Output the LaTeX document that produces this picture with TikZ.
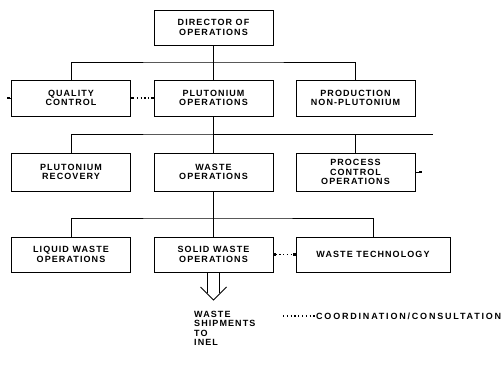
\documentclass[tikz,border=0pt]{standalone}
\usepackage{fontspec}
\newfontfamily\chartfont{Liberation Sans}[LetterSpace=12]
\newfontfamily\legendfont{Liberation Sans}[LetterSpace=20]
\usetikzlibrary{arrows.meta}
\begin{document}
\begin{tikzpicture}[x=1pt,y=-1pt,
  box/.style={draw, line width=0.9pt, minimum width=119pt, minimum height=36pt, inner sep=0pt, align=center,
    font=\chartfont\bfseries\fontsize{9}{9.6}\selectfont},
  lbl/.style={inner sep=0pt, align=left, font=\chartfont\bfseries\fontsize{9}{9.3}\selectfont},
  orgline/.style={line width=0.9pt},
  coordline/.style={line width=1.1pt, dash pattern=on 1.2pt off 2.6pt,
    {Square[length=2.6pt,width=2.6pt]}-{Square[length=2.6pt,width=2.6pt]}}]
\useasboundingbox (0,0) rectangle (504,385);

\node[box, minimum height=35pt] (dir) at (213.5,27.5) {DIRECTOR OF\\OPERATIONS};

\node[box] (qc) at (71,98) {QUALITY\\CONTROL};
\node[box] (pu) at (213.5,98) {PLUTONIUM\\OPERATIONS};
\node[box] (prod) at (355.5,98) {PRODUCTION\\NON-PLUTONIUM};

\node[box, minimum height=38pt] (purec) at (71,172) {PLUTONIUM\\RECOVERY};
\node[box, minimum height=38pt] (waste) at (213.5,172) {WASTE\\OPERATIONS};
\node[box, minimum height=38pt] (pcon) at (355.5,172) {PROCESS\\CONTROL\\OPERATIONS};

\node[box, minimum height=35pt] (liquid) at (71,254.5) {LIQUID WASTE\\OPERATIONS};
\node[box, minimum height=35pt] (solid) at (213.5,254.5) {SOLID WASTE\\OPERATIONS};
\node[box, minimum height=35pt, minimum width=154pt] (wtech) at (373,254.5) {WASTE TECHNOLOGY};

\coordinate (bus1) at (213.5,62);
\draw[orgline] (dir.south) -- (bus1);
\draw[orgline] (qc.north) |- (bus1) -| (prod.north);
\draw[orgline] (bus1) -- (pu.north);

\coordinate (bus2) at (213.5,134);
\coordinate (bus2end) at (433,134);
\draw[orgline] (pu.south) -- (bus2);
\draw[orgline] (purec.north) |- (bus2) -- (bus2end);
\draw[orgline] (bus2) -- (waste.north);
\draw[orgline] (pcon.north) |- (bus2);

\coordinate (bus3) at (213.5,218);
\draw[orgline] (waste.south) -- (bus3);
\draw[orgline] (liquid.north) |- (bus3) -| (wtech.north);
\draw[orgline] (bus3) -- (solid.north);

\draw[coordline] (qc.east) -- (pu.west);
\draw[coordline] (solid.east) -- (wtech.west);
\coordinate (qcout) at (7,98);
\coordinate (pcout) at (422,172);
\draw[orgline, -{Square[length=2.6pt,width=2.6pt]}] (qc.west) -- (qcout);
\draw[orgline, -{Square[length=2.6pt,width=2.6pt]}] (pcon.east) -- (pcout);

\coordinate (shiptip) at (213.5,300);
\draw[orgline] ([xshift=-6pt]solid.south) -- ++(0,21);
\draw[orgline] ([xshift=6pt]solid.south) -- ++(0,21);
\draw[orgline] (shiptip) ++(-13,-13) -- (shiptip) -- ++(13,-13);
\node[lbl, anchor=north west] (ship) at (194,311) {WASTE\\SHIPMENTS\\TO\\INEL};

\node[lbl, anchor=west, font=\legendfont\bfseries\fontsize{9}{9.3}\selectfont] (legend) at (316,316) {COORDINATION/CONSULTATION};
\coordinate (legstart) at (283,316);
\draw[line width=1.1pt, dash pattern=on 1.2pt off 2.6pt] (legstart) -- (legend.west);
\end{tikzpicture}
\end{document}
